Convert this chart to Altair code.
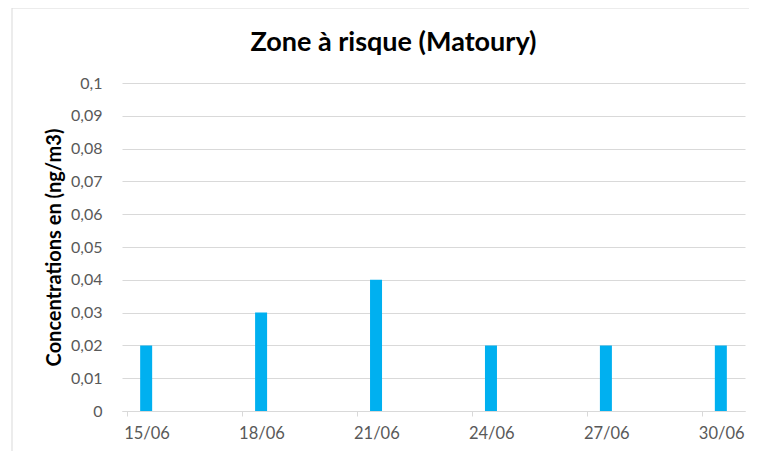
import altair as alt
import pandas as pd

dates = ["15/06", "18/06", "21/06", "24/06", "27/06", "30/06"]
values = [0.02, 0.03, 0.04, 0.02, 0.02, 0.02]
y_ticks = [0, 0.01, 0.02, 0.03, 0.04, 0.05, 0.06, 0.07, 0.08, 0.09, 0.1]

first_day = int(dates[0].split("/")[0])
df = pd.DataFrame({"date": dates, "value": values})
df["day"] = [int(d.split("/")[0]) - first_day + 0.5 for d in dates]
tick_pos = [int(d.split("/")[0]) - first_day for d in dates]
label_arr = "[" + ",".join("'" + d + "'" for d in dates) + "]"

FONT = "Lato"
W, H = 623, 328

bars = alt.Chart(df).mark_bar(color="#00B0F0", size=12).encode(
    x=alt.X(
        "day:Q",
        scale=alt.Scale(domain=[0, 16], nice=False, zero=False),
        axis=alt.Axis(
            values=tick_pos,
            labelExpr=f"{label_arr}[round(datum.value/3)]",
            labelOffset=19.5,
            title=None,
            grid=False,
            domainColor="#d9d9d9",
            tickColor="#d9d9d9",
            tickSize=5,
            labelColor="#595959",
            labelFontSize=16.5,
            labelFont=FONT,
            labelPadding=9,
        ),
    ),
    y=alt.Y(
        "value:Q",
        scale=alt.Scale(domain=[0, 0.1], nice=False),
        axis=alt.Axis(
            values=y_ticks,
            labelExpr="replace(format(datum.value, '.2~f'), '.', ',')",
            title="Concentrations en (ng/m3)",
            titleFont=FONT,
            titleFontSize=20,
            titleFontWeight="bold",
            titleColor="#000000",
            titlePadding=6,
            domain=False,
            ticks=False,
            gridColor="#d9d9d9",
            labelColor="#595959",
            labelFontSize=16,
            labelFont=FONT,
            labelPadding=20,
        ),
    ),
)

frame_src = pd.DataFrame({"k": [0]})
frame_left = alt.Chart(frame_src).mark_rule(color="#d9d9d9", strokeWidth=1).encode(
    x=alt.value(-110), y=alt.value(-75), y2=alt.value(H + 60)
)
frame_top = alt.Chart(frame_src).mark_rule(color="#d9d9d9", strokeWidth=1).encode(
    x=alt.value(-110), x2=alt.value(W + 10), y=alt.value(-75)
)

chart = alt.layer(frame_left, frame_top, bars).properties(
    width=W,
    height=H,
    title=alt.TitleParams(
        "Zone à risque (Matoury)",
        font=FONT,
        fontSize=27,
        fontWeight="bold",
        color="#000000",
        dx=-40,
        offset=-49,
    ),
    autosize=alt.AutoSizeParams(type="none"),
    padding={"left": 114, "top": 75, "right": 4, "bottom": 40},
).configure(background="white").configure_view(stroke=None)

chart.save("out.html", embed_options={"renderer": "svg", "actions": False})
